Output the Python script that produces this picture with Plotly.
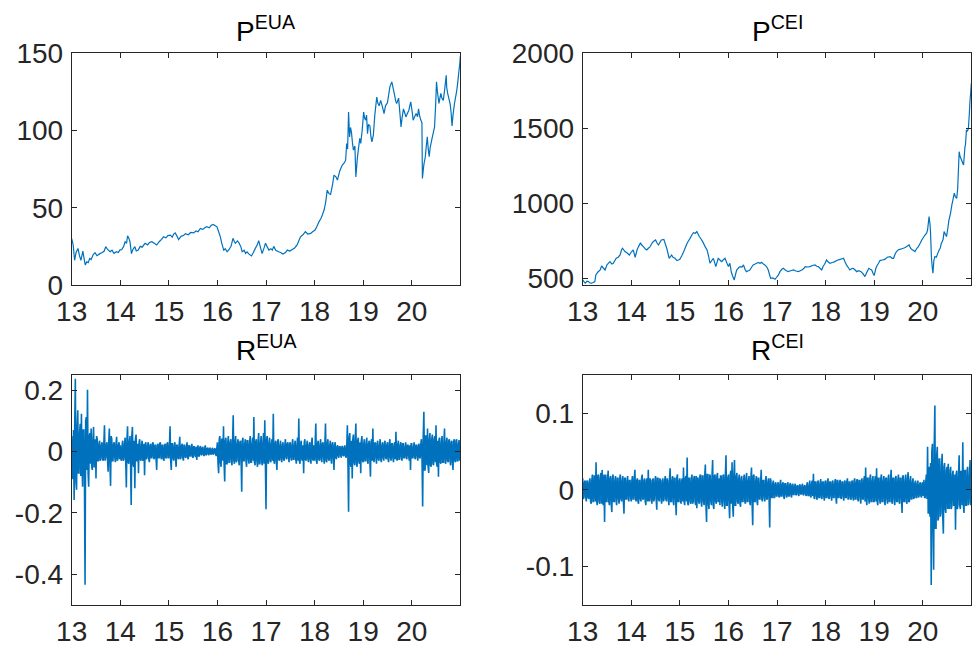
import numpy as np
import plotly.graph_objects as go

# ---------------- data (years since 2000) ----------------
tick_years = [13, 14, 15, 16, 17, 18, 19, 20]
tick_labels = ["13", "14", "15", "16", "17", "18", "19", "20"]

eua_t = [13.00, 13.03, 13.06, 13.09, 13.13, 13.16, 13.19, 13.23, 13.25, 13.28, 13.31, 13.34, 13.37, 13.40,
         13.44, 13.48, 13.52, 13.58, 13.63, 13.67, 13.70, 13.74, 13.79, 13.83, 13.87, 13.92, 13.96, 13.99,
         14.03, 14.07, 14.10, 14.13, 14.15, 14.18, 14.20, 14.23, 14.26, 14.30, 14.33, 14.37, 14.41, 14.45,
         14.51, 14.56, 14.60, 14.65, 14.70, 14.75, 14.80, 14.85, 14.89, 14.94, 14.98, 15.03, 15.07, 15.10,
         15.13, 15.17, 15.20, 15.25, 15.30, 15.34, 15.40, 15.45, 15.51, 15.56, 15.60, 15.65, 15.70, 15.74,
         15.78, 15.83, 15.87, 15.91, 15.95, 15.99, 16.02, 16.06, 16.09, 16.13, 16.16, 16.20, 16.24, 16.28,
         16.32, 16.35, 16.37, 16.41, 16.44, 16.48, 16.51, 16.55, 16.58, 16.61, 16.65, 16.70, 16.74, 16.78,
         16.82, 16.85, 16.88, 16.92, 16.96, 16.99, 17.02, 17.06, 17.10, 17.13, 17.16, 17.20, 17.26, 17.30,
         17.35, 17.40, 17.44, 17.49, 17.54, 17.59, 17.64, 17.68, 17.71, 17.76, 17.81, 17.86, 17.92, 17.96,
         18.01, 18.05, 18.09, 18.13, 18.16, 18.20, 18.23, 18.26, 18.30, 18.33, 18.37, 18.40, 18.44, 18.47,
         18.52, 18.57, 18.61, 18.64, 18.66, 18.68, 18.70, 18.72, 18.74, 18.76, 18.78, 18.80, 18.83, 18.85,
         18.88, 18.90, 18.93, 18.95, 18.98, 19.01, 19.03, 19.05, 19.07, 19.09, 19.11, 19.14, 19.16, 19.18,
         19.21, 19.24, 19.28, 19.30, 19.33, 19.36, 19.40, 19.43, 19.46, 19.50, 19.53, 19.55, 19.59, 19.62,
         19.64, 19.67, 19.69, 19.73, 19.76, 19.78, 19.80, 19.83, 19.86, 19.88, 19.91, 19.94, 19.96, 19.98,
         20.01, 20.03, 20.06, 20.09, 20.12, 20.14, 20.16, 20.18, 20.21, 20.22, 20.25, 20.28, 20.30, 20.32,
         20.34, 20.36, 20.38, 20.41, 20.44, 20.47, 20.49, 20.51, 20.53, 20.56, 20.58, 20.60, 20.62, 20.65,
         20.68, 20.71, 20.72, 20.74, 20.77, 20.79, 20.81, 20.83, 20.85, 20.88, 20.90, 20.93, 20.95, 20.97,
         20.99, 21.00]
eua_p = [30, 26, 16, 21, 23.7, 19, 16, 22, 18, 12.9, 15, 14.5, 17.2, 16.5,
         19.5, 20.9, 19, 20.3, 21, 22, 24.8, 23, 21.5, 22.5, 20.5, 21.5, 21, 22.6,
         23, 25, 28, 27, 31.9, 30, 28, 20.3, 23, 24.8, 22, 22.6, 25, 24.5,
         27, 26, 27.5, 28, 27, 25.9, 28, 29.5, 31.2, 30.5, 32, 32.3, 31, 33,
         33.7, 31.5, 29.4, 31.5, 32, 33.2, 32.5, 34, 33.7, 35, 34.5, 36.6, 36, 37,
         37.7, 37, 38.5, 39.2, 38.5, 37.7, 35, 31.2, 27, 22.6, 23.5, 21.5, 23, 25,
         30.2, 28, 27, 28.5, 27.4, 25, 21.5, 22.5, 20.5, 21.5, 20, 18.8, 21, 23.7,
         26, 28.7, 25, 20.3, 24, 27, 25, 22.6, 23.5, 22.5, 25, 22.5, 21.5, 21,
         20, 21, 22.6, 22, 23, 24, 25.9, 29, 31.2, 32.5, 34.5, 33, 33.4, 34.5,
         35.6, 38, 40.9, 43, 45.3, 49, 53.9, 61.4, 59, 58.6, 65, 71.1, 70, 67.9,
         74, 77.6, 79, 80.8, 91.6, 88, 112, 95.9, 102, 98.6, 92, 87.3, 90, 70,
         82, 87.3, 95, 91.6, 100, 112, 108, 106.7, 110, 98, 104, 103, 96, 92.7,
         97, 110, 121.7, 118, 116, 119.5, 115, 111, 116, 118, 124, 128.3, 131.5, 127,
         124, 119, 117.5, 121, 110, 102.4, 108, 114, 111, 108.8, 111, 113, 116, 118.5,
         112, 106.7, 109, 111, 109, 114, 110, 107.5, 105, 69, 78, 83, 90, 96,
         88, 83, 89, 93.6, 98, 102.4, 115, 131.5, 125, 117.5, 121, 124, 121, 119.5,
         127, 135.8, 128, 124, 120, 117.5, 112, 103, 110, 117.5, 121, 126.5, 132, 138,
         143.3, 148]

cei_t = [13.00, 13.03, 13.05, 13.09, 13.12, 13.15, 13.18, 13.22, 13.25, 13.27, 13.31, 13.36, 13.39, 13.42,
         13.46, 13.50, 13.56, 13.60, 13.63, 13.69, 13.73, 13.77, 13.80, 13.82, 13.87, 13.91, 13.96, 14.00,
         14.04, 14.08, 14.12, 14.15, 14.19, 14.22, 14.25, 14.29, 14.32, 14.35, 14.38, 14.42, 14.45, 14.50,
         14.53, 14.56, 14.60, 14.62, 14.67, 14.70, 14.73, 14.76, 14.78, 14.83, 14.86, 14.90, 14.94, 14.97,
         15.00, 15.04, 15.08, 15.12, 15.15, 15.18, 15.21, 15.25, 15.28, 15.32, 15.35, 15.40, 15.44, 15.47,
         15.52, 15.56, 15.59, 15.62, 15.66, 15.69, 15.74, 15.79, 15.83, 15.86, 15.90, 15.93, 15.97, 16.00,
         16.03, 16.06, 16.09, 16.12, 16.15, 16.17, 16.21, 16.24, 16.28, 16.31, 16.34, 16.37, 16.41, 16.44,
         16.48, 16.51, 16.55, 16.58, 16.62, 16.65, 16.68, 16.72, 16.75, 16.79, 16.82, 16.85, 16.87, 16.91,
         16.96, 17.00, 17.03, 17.06, 17.10, 17.13, 17.17, 17.23, 17.28, 17.34, 17.39, 17.44, 17.48, 17.51,
         17.55, 17.58, 17.63, 17.68, 17.73, 17.78, 17.82, 17.85, 17.89, 17.92, 17.95, 17.98, 18.02, 18.05,
         18.09, 18.14, 18.19, 18.24, 18.30, 18.34, 18.37, 18.40, 18.43, 18.47, 18.50, 18.54, 18.57, 18.61,
         18.64, 18.68, 18.73, 18.77, 18.81, 18.85, 18.89, 18.92, 18.95, 18.98, 19.00, 19.03, 19.05, 19.09,
         19.12, 19.17, 19.22, 19.27, 19.33, 19.37, 19.40, 19.43, 19.46, 19.50, 19.53, 19.57, 19.60, 19.64,
         19.67, 19.70, 19.72, 19.75, 19.77, 19.81, 19.84, 19.88, 19.91, 19.95, 19.98, 20.02, 20.05, 20.08,
         20.10, 20.13, 20.15, 20.16, 20.18, 20.20, 20.21, 20.23, 20.25, 20.28, 20.31, 20.34, 20.36, 20.38,
         20.40, 20.42, 20.44, 20.47, 20.49, 20.52, 20.54, 20.57, 20.60, 20.62, 20.65, 20.67, 20.70, 20.72,
         20.75, 20.77, 20.80, 20.82, 20.84, 20.87, 20.88, 20.90, 20.92, 20.94, 20.96, 20.97, 20.99, 21.00]
cei_p = [489, 475, 467, 480, 478, 468, 467, 472, 478, 522, 540, 555, 582, 570,
         555, 590, 611, 595, 600, 633, 640, 655, 690, 700, 678, 670, 655, 675,
         689, 640, 690, 711, 737, 720, 711, 695, 689, 700, 707, 730, 744, 755,
         735, 722, 745, 755, 759, 730, 700, 660, 633, 655, 640, 633, 618, 622,
         626, 650, 678, 710, 733, 750, 766, 790, 804, 800, 811, 778, 760, 744,
         711, 689, 650, 600, 620, 633, 578, 633, 620, 611, 625, 633, 600, 578,
         600, 540, 511, 489, 530, 555, 570, 578, 575, 589, 560, 544, 550, 555,
         575, 589, 595, 600, 606, 598, 606, 595, 589, 575, 555, 520, 500, 502,
         493, 510, 522, 544, 560, 566, 555, 544, 550, 555, 548, 544, 550, 555,
         565, 578, 575, 578, 585, 589, 580, 578, 565, 555, 580, 593, 622, 610,
         600, 605, 611, 620, 626, 630, 633, 610, 589, 570, 555, 565, 566, 555,
         544, 550, 544, 530, 511, 540, 566, 560, 555, 530, 518, 560, 578, 600,
         618, 622, 626, 640, 644, 633, 633, 660, 678, 690, 693, 697, 700, 705,
         711, 718, 722, 700, 693, 685, 678, 700, 711, 735, 755, 775, 789, 800,
         822, 911, 860, 811, 633, 560, 533, 620, 644, 640, 666, 690, 700, 730,
         744, 760, 811, 790, 778, 840, 889, 930, 989, 1020, 1067, 1045, 1033, 1100,
         1344, 1310, 1289, 1270, 1255, 1378, 1390, 1489, 1480, 1500, 1600, 1667, 1750, 1800]

# returns: per bin (40 bins a year) the extreme reading "a" and the opposite band reading "b"
reua_13a = [0.05, -0.09, -0.158, 0.237, -0.125, 0.134, -0.07, 0.09, 0.123, -0.115, 0.07, -0.434, 0.112, 0.201,
            -0.115, 0.06, 0.075, -0.06, 0.08, -0.05, -0.088, 0.04, -0.03, 0.035, -0.025, 0.03, -0.03, 0.085,
            -0.02, 0.03, -0.066, 0.075, -0.112, 0.04, -0.03, 0.03, -0.035, 0.048, -0.025, 0.03]
reua_13b = [-0.06, 0.07, 0.09, -0.1, 0.08, -0.07, 0.06, -0.08, -0.05, 0.07, -0.09, 0.1, -0.06, -0.07,
            0.05, -0.04, -0.05, 0.04, -0.05, 0.04, 0.05, -0.03, 0.025, -0.03, 0.02, -0.025, 0.03, -0.03,
            0.02, -0.025, 0.03, -0.04, 0.05, -0.03, 0.025, -0.02, 0.025, -0.03, 0.02, -0.025]
reua_14a = [0.02, -0.03, 0.035, -0.025, 0.045, -0.117, 0.082, -0.04, 0.05, -0.174, 0.08, -0.05, -0.12, 0.055,
            -0.03, -0.071, 0.04, -0.03, 0.035, -0.025, -0.077, 0.03, -0.02, 0.03, -0.035, 0.025, -0.02, 0.03,
            -0.025, 0.02, -0.06, 0.025, -0.02, 0.03, -0.025, 0.02, -0.03, 0.025, -0.02, 0.03]
reua_14b = [-0.025, 0.02, -0.03, 0.025, -0.03, 0.04, -0.035, 0.03, -0.04, 0.05, -0.04, 0.035, 0.04, -0.03,
            0.025, 0.03, -0.025, 0.02, -0.03, 0.025, 0.02, -0.025, 0.02, -0.025, 0.02, -0.02, 0.025, -0.02,
            0.02, -0.025, 0.02, -0.02, 0.025, -0.02, 0.02, -0.025, 0.02, -0.02, 0.025, -0.02]
reua_15a = [-0.02, 0.082, -0.06, 0.025, -0.03, 0.03, -0.05, 0.02, -0.025, 0.048, -0.02, 0.025, -0.03, 0.02,
            -0.02, 0.03, -0.025, 0.02, -0.015, 0.025, -0.02, 0.015, -0.018, -0.028, 0.02, -0.015, 0.018, -0.012,
            0.015, -0.015, 0.02, -0.01, 0.012, -0.012, 0.01, -0.01, 0.012, -0.008, 0.01, -0.015]
reua_15b = [0.02, -0.03, 0.025, -0.02, 0.02, -0.025, 0.02, -0.02, 0.02, -0.025, 0.018, -0.02, 0.02, -0.018,
            0.015, -0.02, 0.018, -0.015, 0.015, -0.018, 0.015, -0.012, 0.015, 0.012, -0.015, 0.012, -0.01, 0.012,
            -0.01, 0.01, -0.012, 0.01, -0.008, 0.01, -0.008, 0.008, -0.01, 0.008, -0.008, 0.01]
reua_16a = [0.03, -0.071, 0.05, -0.05, 0.04, 0.082, -0.098, 0.045, -0.04, 0.05, -0.035, 0.04, -0.045, 0.118,
            -0.04, 0.05, -0.03, 0.04, -0.045, 0.035, -0.131, 0.045, -0.03, 0.04, -0.05, 0.035, -0.04, 0.05,
            -0.035, 0.045, 0.112, -0.045, 0.04, -0.05, 0.06, -0.04, 0.05, -0.045, 0.06, 0.102]
reua_16b = [-0.04, 0.04, -0.035, 0.04, -0.03, -0.04, 0.035, -0.04, 0.03, -0.035, 0.03, -0.03, 0.035, -0.03,
            0.03, -0.035, 0.025, -0.03, 0.03, -0.025, 0.035, -0.03, 0.025, -0.03, 0.035, -0.025, 0.03, -0.035,
            0.025, -0.03, -0.035, 0.03, -0.03, 0.035, -0.04, 0.03, -0.035, 0.03, -0.04, -0.035]
reua_17a = [-0.188, 0.05, -0.04, 0.045, -0.035, 0.04, 0.123, -0.04, 0.035, -0.06, 0.04, -0.03, 0.035, -0.035,
            0.03, -0.03, 0.04, -0.025, 0.03, -0.035, 0.03, -0.03, 0.04, -0.025, 0.035, -0.04, 0.045, 0.107,
            -0.04, 0.035, -0.03, -0.071, 0.04, -0.03, 0.035, -0.035, 0.03, -0.04, 0.045, -0.03]
reua_17b = [0.04, -0.035, 0.03, -0.03, 0.025, -0.03, -0.03, 0.025, -0.03, 0.03, -0.025, 0.02, -0.025, 0.02,
            -0.025, 0.02, -0.02, 0.025, -0.02, 0.025, -0.02, 0.02, -0.025, 0.02, -0.025, 0.02, -0.03, -0.03,
            0.025, -0.025, 0.02, 0.03, -0.025, 0.02, -0.025, 0.02, -0.025, 0.03, -0.025, 0.02]
reua_18a = [-0.03, 0.091, -0.04, 0.035, -0.03, 0.04, -0.035, 0.03, -0.04, 0.091, -0.035, 0.04, -0.03, 0.035,
            -0.04, 0.03, -0.06, 0.03, -0.025, 0.02, -0.02, 0.015, -0.02, 0.018, -0.015, 0.02, -0.02, 0.085,
            -0.196, 0.06, -0.05, -0.088, 0.055, -0.045, 0.091, -0.05, 0.045, -0.04, -0.071, 0.05]
reua_18b = [0.025, -0.03, 0.025, -0.025, 0.02, -0.025, 0.025, -0.02, 0.025, -0.03, 0.025, -0.025, 0.02, -0.025,
            0.025, -0.02, 0.02, -0.02, 0.015, -0.015, 0.015, -0.012, 0.015, -0.012, 0.012, -0.015, 0.015, -0.04,
            0.045, -0.04, 0.035, 0.04, -0.035, 0.04, -0.04, 0.035, -0.035, 0.03, 0.035, -0.03]
reua_19a = [-0.035, 0.04, -0.03, 0.045, -0.04, 0.035, -0.082, 0.04, 0.075, -0.035, 0.03, -0.04, 0.035, -0.03,
            0.04, -0.035, 0.03, -0.03, 0.035, -0.025, 0.03, -0.035, 0.04, -0.03, 0.025, -0.035, 0.03, 0.064,
            -0.03, 0.035, -0.025, 0.03, -0.03, 0.025, -0.02, 0.03, -0.025, 0.02, -0.03, -0.06]
reua_19b = [0.025, -0.03, 0.025, -0.03, 0.025, -0.025, 0.03, -0.03, -0.025, 0.025, -0.02, 0.025, -0.025, 0.02,
            -0.025, 0.02, -0.02, 0.025, -0.02, 0.02, -0.025, 0.025, -0.02, 0.025, -0.02, 0.02, -0.025, -0.02,
            0.02, -0.025, 0.02, -0.02, 0.025, -0.02, 0.015, -0.02, 0.02, -0.015, 0.02, 0.025]
reua_20a = [0.025, -0.02, 0.03, -0.025, 0.02, -0.03, 0.025, -0.02, 0.04, -0.179, 0.129, -0.06, 0.05, 0.075,
            -0.07, 0.06, -0.05, 0.055, -0.045, 0.05, 0.085, -0.05, -0.082, 0.045, -0.04, 0.05, -0.035, 0.075,
            -0.04, 0.045, -0.035, 0.04, -0.045, 0.035, -0.06, 0.04, -0.035, 0.04, -0.03, 0.037]
reua_20b = [-0.02, 0.015, -0.02, 0.02, -0.015, 0.02, -0.02, 0.025, -0.03, 0.05, -0.06, 0.05, -0.045, -0.05,
            0.04, -0.045, 0.04, -0.04, 0.04, -0.035, -0.04, 0.035, 0.04, -0.035, 0.03, -0.035, 0.03, -0.035,
            0.03, -0.03, 0.035, -0.03, 0.03, -0.035, 0.03, -0.03, 0.035, -0.03, 0.025, -0.03]

rcei_13a = [0.015, -0.01, 0.012, -0.015, 0.01, -0.012, 0.015, -0.018, 0.02, -0.015, 0.018, 0.036, -0.02, 0.02,
            -0.018, 0.022, 0.026, -0.02, -0.042, 0.02, -0.015, 0.025, -0.02, 0.018, -0.029, 0.02, -0.015, 0.018,
            -0.02, 0.015, -0.018, 0.02, -0.015, 0.018, -0.031, 0.015, -0.012, 0.018, -0.015, 0.012]
rcei_13b = [-0.012, 0.01, -0.01, 0.012, -0.01, 0.012, -0.015, 0.012, -0.015, 0.018, -0.015, -0.015, 0.018, -0.015,
            0.015, -0.018, -0.015, 0.02, 0.015, -0.015, 0.015, -0.015, 0.015, -0.018, 0.015, -0.015, 0.012, -0.015,
            0.015, -0.012, 0.015, -0.012, 0.012, -0.015, 0.015, -0.012, 0.012, -0.012, 0.012, -0.01]
rcei_14a = [-0.015, 0.018, -0.012, 0.026, -0.015, 0.015, -0.018, 0.012, -0.015, 0.02, -0.012, 0.015, -0.02, 0.015,
            0.026, -0.015, 0.012, -0.018, 0.015, -0.012, 0.018, -0.026, 0.015, -0.015, 0.012, -0.018, 0.015, -0.012,
            0.018, -0.015, 0.012, -0.02, 0.028, -0.015, 0.018, -0.02, 0.015, -0.033, 0.02, -0.015]
rcei_14b = [0.012, -0.012, 0.015, -0.012, 0.012, -0.015, 0.012, -0.012, 0.015, -0.012, 0.012, -0.015, 0.012, -0.015,
            -0.012, 0.015, -0.012, 0.012, -0.015, 0.012, -0.012, 0.015, -0.012, 0.015, -0.012, 0.012, -0.015, 0.012,
            -0.012, 0.015, -0.012, 0.015, -0.015, 0.012, -0.015, 0.015, -0.012, 0.015, -0.015, 0.012]
rcei_15a = [0.015, -0.018, 0.015, 0.029, -0.02, 0.018, 0.042, -0.02, 0.015, -0.018, 0.02, -0.015, 0.018, -0.02,
            -0.024, 0.015, -0.018, 0.02, -0.022, 0.018, -0.02, 0.033, -0.042, 0.02, -0.025, 0.018, -0.02, 0.039,
            -0.025, 0.02, -0.018, 0.022, -0.015, -0.02, 0.018, -0.022, 0.02, -0.025, 0.045, -0.02]
rcei_15b = [-0.015, 0.012, -0.015, -0.015, 0.015, -0.015, -0.018, 0.015, -0.015, 0.015, -0.018, 0.015, -0.015, 0.018,
            0.015, -0.015, 0.018, -0.015, 0.018, -0.015, 0.018, -0.02, 0.02, -0.018, 0.02, -0.015, 0.018, -0.02,
            0.018, -0.015, 0.018, -0.015, 0.015, 0.018, -0.015, 0.018, -0.015, 0.02, -0.02, 0.015]
rcei_16a = [0.02, -0.037, 0.025, 0.036, -0.035, 0.039, -0.02, 0.022, -0.018, 0.02, -0.022, 0.018, -0.015, 0.02,
            -0.018, 0.022, -0.015, 0.018, -0.02, 0.029, -0.046, 0.02, -0.015, 0.018, -0.02, 0.015, -0.012, 0.026,
            -0.015, 0.012, -0.015, 0.018, -0.012, 0.015, -0.049, 0.012, -0.01, 0.012, -0.01, 0.01]
rcei_16b = [-0.018, 0.02, -0.018, -0.02, 0.02, -0.02, 0.018, -0.015, 0.015, -0.018, 0.015, -0.015, 0.012, -0.015,
            0.015, -0.015, 0.012, -0.015, 0.015, -0.018, 0.018, -0.015, 0.012, -0.015, 0.015, -0.012, 0.01, -0.012,
            0.012, -0.01, 0.012, -0.012, 0.01, -0.012, 0.015, -0.01, 0.008, -0.01, 0.008, -0.008]
rcei_17a = [-0.008, 0.01, -0.01, 0.013, -0.008, 0.01, -0.012, 0.008, -0.01, 0.01, -0.008, 0.009, -0.01, 0.008,
            -0.006, 0.008, -0.007, 0.006, -0.008, 0.007, -0.006, 0.008, -0.007, 0.006, -0.008, 0.01, -0.008, 0.012,
            -0.01, 0.012, 0.021, -0.012, 0.01, -0.013, 0.012, -0.01, 0.014, -0.012, 0.01, -0.014]
rcei_17b = [0.007, -0.008, 0.008, -0.008, 0.007, -0.008, 0.008, -0.006, 0.007, -0.008, 0.006, -0.007, 0.006, -0.006,
            0.005, -0.006, 0.005, -0.005, 0.006, -0.005, 0.005, -0.006, 0.005, -0.005, 0.006, -0.007, 0.006, -0.008,
            0.008, -0.008, -0.01, 0.01, -0.008, 0.01, -0.01, 0.008, -0.01, 0.01, -0.008, 0.01]
rcei_18a = [0.012, -0.01, 0.015, -0.012, 0.01, -0.014, 0.012, -0.01, 0.014, -0.018, 0.012, -0.01, 0.013, -0.012,
            0.01, -0.014, 0.012, -0.01, 0.015, -0.012, 0.01, -0.013, 0.012, -0.014, 0.015, -0.012, 0.014, -0.015,
            0.012, -0.018, 0.015, -0.012, 0.018, 0.029, -0.02, 0.015, -0.018, 0.02, -0.015, 0.018]
rcei_18b = [-0.01, 0.01, -0.01, 0.01, -0.008, 0.01, -0.01, 0.008, -0.01, 0.012, -0.01, 0.01, -0.01, 0.01,
            -0.008, 0.01, -0.01, 0.01, -0.012, 0.01, -0.01, 0.01, -0.01, 0.012, -0.012, 0.01, -0.012, 0.012,
            -0.01, 0.012, -0.012, 0.012, -0.015, -0.012, 0.015, -0.012, 0.015, -0.015, 0.012, -0.015]
rcei_19a = [-0.015, 0.018, 0.028, -0.02, 0.015, -0.018, 0.02, -0.015, 0.018, -0.02, 0.015, -0.018, 0.02, -0.015,
            0.026, -0.018, 0.015, -0.02, 0.018, -0.015, 0.02, -0.018, 0.015, -0.03, 0.018, -0.015, 0.02, -0.018,
            0.023, -0.015, 0.018, -0.012, 0.015, -0.01, 0.012, -0.01, 0.012, -0.008, 0.01, -0.01]
rcei_19b = [0.012, -0.015, -0.015, 0.015, -0.012, 0.015, -0.015, 0.012, -0.015, 0.015, -0.012, 0.015, -0.015, 0.012,
            -0.015, 0.015, -0.012, 0.015, -0.015, 0.012, -0.015, 0.015, -0.012, 0.018, -0.015, 0.012, -0.015, 0.015,
            -0.015, 0.012, -0.012, 0.01, -0.012, 0.008, -0.01, 0.008, -0.01, 0.007, -0.008, 0.008]
rcei_20a = [0.01, 0.013, -0.01, 0.02, 0.056, -0.03, -0.035, -0.124, 0.06, -0.104, 0.11, -0.05, 0.056, -0.037,
            0.04, -0.03, 0.047, -0.057, 0.035, -0.03, 0.03, 0.034, -0.025, 0.03, -0.02, 0.025, -0.02, -0.052,
            0.025, -0.02, 0.045, -0.025, 0.02, 0.062, -0.03, 0.025, -0.02, 0.03, -0.016, 0.039]
rcei_20b = [-0.008, -0.01, 0.01, -0.012, -0.03, 0.03, 0.035, 0.05, -0.05, 0.06, -0.05, 0.045, -0.04, 0.04,
            -0.035, 0.03, -0.035, 0.03, -0.025, 0.025, -0.025, -0.02, 0.025, -0.025, 0.02, -0.02, 0.02, 0.02,
            -0.025, 0.02, -0.02, 0.025, -0.02, -0.02, 0.025, -0.02, 0.025, -0.02, 0.02, -0.02]


def interleave(a_lists, b_lists):
    out = []
    for a, b in zip(a_lists, b_lists):
        for va, vb in zip(a, b):
            out.extend([va, vb])
    return out


reua = interleave([reua_13a, reua_14a, reua_15a, reua_16a, reua_17a, reua_18a, reua_19a, reua_20a],
                  [reua_13b, reua_14b, reua_15b, reua_16b, reua_17b, reua_18b, reua_19b, reua_20b])
rcei = interleave([rcei_13a, rcei_14a, rcei_15a, rcei_16a, rcei_17a, rcei_18a, rcei_19a, rcei_20a],
                  [rcei_13b, rcei_14b, rcei_15b, rcei_16b, rcei_17b, rcei_18b, rcei_19b, rcei_20b])
r_t = 13 + np.arange(len(reua)) / 80.0   # time axis: 80 readings per year

# ---------------- figure ----------------
W, H = 973, 647
LINE = "#0072BD"
AX = "#262626"
FONT = "Liberation Sans, Arial, Helvetica, sans-serif"
FS = 28
FST = 28


def px_x(p):
    return p / W


def px_y(p):
    return 1 - p / H


fig = go.Figure()
for xs, ys, xa, ya, lw in [(eua_t, eua_p, "x", "y", 1.2), (cei_t, cei_p, "x2", "y2", 1.2),
                           (r_t, reua, "x3", "y3", 1.6), (r_t, rcei, "x4", "y4", 1.6)]:
    fig.add_trace(go.Scatter(x=xs, y=ys, mode="lines",
                             line=dict(color=LINE, width=lw, simplify=False),
                             xaxis=xa, yaxis=ya, showlegend=False, hoverinfo="skip"))

xl = [px_x(71.7), px_x(460.3)]
xr = [px_x(582.7), px_x(971.3)]
yt = [px_y(285), px_y(53.3)]
yb = [px_y(605), px_y(374.7)]


def xax(dom, anchor):
    return dict(domain=dom, anchor=anchor, range=[13, 21], tickmode="array",
                tickvals=tick_years, ticktext=tick_labels, ticks="inside", ticklen=5,
                tickcolor=AX, tickwidth=1, showline=True, linecolor=AX, linewidth=1,
                mirror="allticks", showgrid=False, zeroline=False, automargin=False,
                tickfont=dict(family=FONT, size=FS, color=AX), ticklabelstandoff=1)


def yax(dom, anchor, rng, vals, texts):
    return dict(domain=dom, anchor=anchor, range=rng, tickmode="array",
                tickvals=vals, ticktext=texts, ticks="inside", ticklen=5,
                tickcolor=AX, tickwidth=1, showline=True, linecolor=AX, linewidth=1,
                mirror="allticks", showgrid=False, zeroline=False, automargin=False,
                tickfont=dict(family=FONT, size=FS, color=AX), ticklabelstandoff=2)


fig.update_layout(
    width=W, height=H, margin=dict(l=0, r=0, t=0, b=0, autoexpand=False),
    paper_bgcolor="white", plot_bgcolor="white",
    xaxis=xax(xl, "y"), yaxis=yax(yt, "x", [0, 150], [0, 50, 100, 150], ["0", "50", "100", "150"]),
    xaxis2=xax(xr, "y2"), yaxis2=yax(yt, "x2", [455, 2000], [500, 1000, 1500, 2000],
                                     ["500", "1000", "1500", "2000"]),
    xaxis3=xax(xl, "y3"), yaxis3=yax(yb, "x3", [-0.5, 0.25], [-0.4, -0.2, 0, 0.2],
                                     ["-0.4", "-0.2", "0", "0.2"]),
    xaxis4=xax(xr, "y4"), yaxis4=yax(yb, "x4", [-0.15, 0.15], [-0.1, 0, 0.1],
                                     ["-0.1", "0", "0.1"]),
)

titles = [("P<sup>EUA</sup>", (xl[0] + xl[1]) / 2, 53.3 - 4),
          ("P<sup>CEI</sup>", (xr[0] + xr[1]) / 2, 53.3 - 4),
          ("R<sup>EUA</sup>", (xl[0] + xl[1]) / 2, 374.7 - 7),
          ("R<sup>CEI</sup>", (xr[0] + xr[1]) / 2, 374.7 - 7)]
for txt, xc, anchor_px in titles:
    fig.add_annotation(text=txt, x=xc, y=px_y(anchor_px), xref="paper", yref="paper",
                       xanchor="center", yanchor="bottom", showarrow=False,
                       font=dict(family=FONT, size=FST, color="black"))

fig.write_html("out.html")
